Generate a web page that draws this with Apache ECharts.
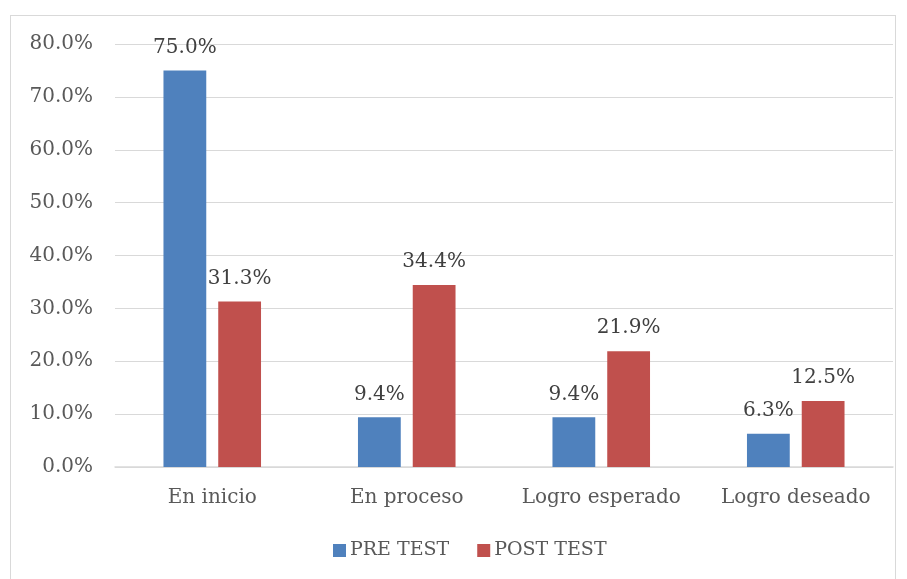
<!DOCTYPE html>
<html><head><meta charset="utf-8">
<script src="https://cdn.jsdelivr.net/npm/echarts@6/dist/echarts.min.js"></script>
<style>html,body{margin:0;padding:0;background:#fff}#c{width:907px;height:579px}
#frame{position:absolute;left:10px;top:15px;width:884px;height:580px;border:1.5px solid #d9d9d9;pointer-events:none}</style>
</head><body><div id="c"></div><div id="frame"></div>
<script>
const categories = ['En inicio', 'En proceso', 'Logro esperado', 'Logro deseado'];
const preTest = [75.0, 9.4, 9.4, 6.3];
const postTest = [31.3, 34.4, 21.9, 12.5];
const seriesNames = ['PRE TEST', 'POST TEST'];
const FONT = 'DejaVu Serif';
const chart = echarts.init(document.getElementById('c'));
const lbl = {show:true, position:'top', distance:13, color:'#404040', fontFamily:FONT, fontSize:20,
  formatter: p => p.value.toFixed(1) + '%'};
chart.setOption({
  animation:false,
  textStyle:{fontFamily:FONT},
  grid:{left:115, right:14, top:44, bottom:112},
  legend:{bottom:14, left:328, itemWidth:13, itemHeight:13, itemGap:28,
    textStyle:{fontFamily:FONT, fontSize:19, color:'#595959', padding:[0,0,0,-1]}, icon:'rect'},
  xAxis:{type:'category', data:categories,
    axisLine:{lineStyle:{color:'#d9d9d9', width:1.5}}, axisTick:{show:false},
    axisLabel:{interval:0, color:'#595959', fontFamily:FONT, fontSize:20, margin:21}},
  yAxis:{type:'value', min:0, max:80, interval:10,
    axisLine:{show:false}, axisTick:{show:false},
    splitLine:{lineStyle:{color:'#d9d9d9', width:1}},
    axisLabel:{color:'#595959', fontFamily:FONT, fontSize:20, margin:22, formatter: v => v.toFixed(1) + '%'}},
  series:[
    {name:seriesNames[0], type:'bar', data:preTest, barWidth:'22%', barGap:'28%', itemStyle:{color:'#4F81BD'}, label:lbl},
    {name:seriesNames[1], type:'bar', data:postTest, barWidth:'22%', barGap:'28%', itemStyle:{color:'#C0504D'}, label:lbl}
  ]
});
</script></body></html>
